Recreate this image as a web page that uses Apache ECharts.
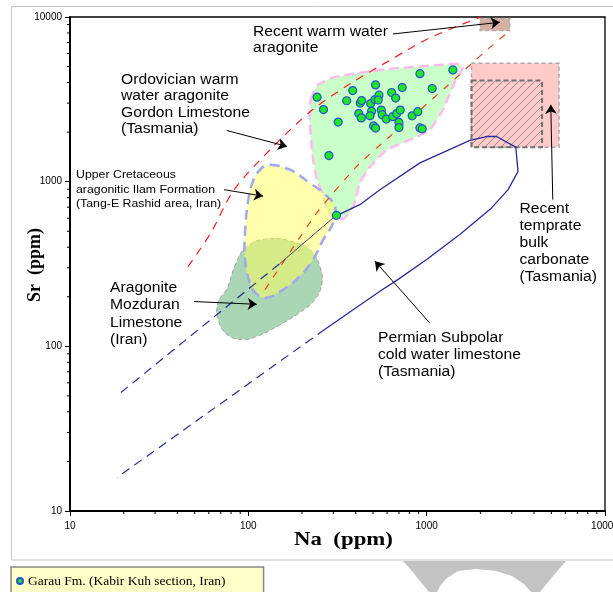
<!DOCTYPE html>
<html><head><meta charset="utf-8">
<script src="https://cdn.jsdelivr.net/npm/echarts@6/dist/echarts.min.js"></script>
<style>html,body{margin:0;padding:0;background:#fff}#c{width:613px;height:592px}</style>
</head><body><div id="c"></div>
<script>
// ---------- data (Na ppm, Sr ppm) ----------
const legendName = 'Garau Fm. (Kabir Kuh section, Iran)';
const garauNa = [243,264,319,283,356,385,424,432,416,430,485,491,481,517,513,540,535,556,563,593,504,517,636,670,645,679,711,729,699,699,829,892,917,917,944,1074,1402,312];
const garauSr = [3260,2740,2300,1440,3100,3575,3000,3110,2590,2440,2980,2680,2510,3870,3150,3350,3130,2720,2550,2400,2180,2115,3480,3220,2480,2590,2720,3730,2290,2130,2510,2660,4530,2120,2095,3680,4770,625];

const ordovicianField = [[224,3141],[246,3872],[306,4329],[622,4840],[1185,5118],[1516,5190],[1595,4909],[1439,4037],[1233,2732],[1042,2067],[882,1874],[599,1563],[481,1233],[422,986],[391,725],[348,605],[310,588],[276,677],[259,858],[240,1072],[227,1563],[221,2477]];
const ilamField = [[132,1268],[171,1182],[221,982],[263,854],[306,709],[299,562],[263,445],[231,337],[195,267],[157,221],[127,197],[111.5,207],[102,243],[95.8,337],[95.8,489],[100,778],[107,1028],[119,1211]];
const mozduranField = [[132,451],[183,427],[227,377],[252,305],[259,244],[237,193],[195,161],[145,132],[112,115],[93.4,110],[76,118],[67.7,146],[67.7,185],[76,225],[84.3,310],[98.3,404]];

const warmUpperLine = [[45.9,305],[61.8,491],[83.2,894],[137.6,1630],[229,2732],[379,3981],[627,5489],[1038,7459],[2013,10000]];
const warmLowerLine = [[124,221],[242,646],[405,1238],[622,1882],[1292,3781],[2073,6026],[2925,8260]];

const permianUpperDash = [[19.3,52.4],[150,318]];
const permianLink = [[150,318],[306,616]];
const permianLoop = [[306,616],[422,725],[547,894],[917,1300],[1748,1780],[2165,1880],[2466,1880],[3160,1620],[3252,1155],[2862,894],[2311,693],[1534,477],[1000,337],[692,255],[547,216],[269,127]];
const permianLowerDash = [[269,127],[18.4,16]];

const recentWarmBox = [[1990,8260],[2930,9820]];
const temperateBulkBox = [[1784,1620],[5525,5240]];
const temperateInnerBox = [[1784,1620],[4438,4110]];

const arrows = [
  [[647,7888],[2572,9288]],
  [[75.6,2046],[164.8,1637]],
  [[73.1,894],[120.9,817]],
  [[49.6,187],[111.5,180]],
  [[1038,139],[513,329]],
  [[5095,778],[4965,2930]]
];
const minorTickValues = [20,30,40,50,60,70,80,90,200,300,400,500,600,700,800,900,2000,3000,4000,5000,6000,7000,8000,9000];

// ---------- helpers ----------
const hatch = document.createElement('canvas');
hatch.width = 8; hatch.height = 8;
(function(){const g=hatch.getContext('2d');g.strokeStyle='#9a8a8a';g.lineWidth=1;
g.beginPath();g.moveTo(0,8);g.lineTo(8,0);g.moveTo(-2,2);g.lineTo(2,-2);g.moveTo(6,10);g.lineTo(10,6);g.stroke();})();

function polySeries(pts, style, smooth, z) {
  return {type:'custom', coordinateSystem:'cartesian2d', silent:true, z:z||2,
    data:[pts[0]],
    renderItem:function(params, api){
      return {type:'polygon', shape:{points:pts.map(p=>api.coord(p)), smooth:smooth||0}, style:style};
    }};
}
function rectSeries(box, style, z) {
  return {type:'custom', coordinateSystem:'cartesian2d', silent:true, z:z||2,
    data:[box[0]],
    renderItem:function(params, api){
      const a = api.coord(box[0]), b = api.coord(box[1]);
      return {type:'rect', shape:{x:Math.min(a[0],b[0]), y:Math.min(a[1],b[1]), width:Math.abs(b[0]-a[0]), height:Math.abs(b[1]-a[1])}, style:style};
    }};
}
function lineSeries(pts, color, width, type, smooth, z) {
  return {type:'line', data:pts, showSymbol:false, symbol:'none', silent:true, smooth:smooth||false, z:z||3,
    lineStyle:{color:color, width:width, type:type}};
}
function label(x, y, text, size, lh) {
  return {type:'text', x:x, y:y, scaleX:1.12, z:100,
    style:{text:text, font:size+'px "Liberation Sans"', fill:'#000', lineHeight:lh, verticalAlign:'top', align:'left'}};
}

const chart = echarts.init(document.getElementById('c'), null, {renderer:'canvas'});
const axisCommon = {
  type:'log', logBase:10, min:10, max:10000,
  axisLine:{show:true, onZero:false, lineStyle:{color:'#000', width:2}},
  axisTick:{show:true, inside:false, length:5, lineStyle:{color:'#000', width:1}},
  splitLine:{show:false},
  axisLabel:{fontSize:10, fontFamily:'"Liberation Sans"', color:'#000', formatter:v=>String(Math.round(v))}
};

chart.setOption({
  animation:false,
  backgroundColor:'#fff',
  grid:{left:70, top:17, width:535, height:494, containLabel:false, outerBoundsMode:'none',
    show:true, borderColor:'#000', borderWidth:1.3, backgroundColor:'transparent'},
  xAxis:Object.assign({}, axisCommon, {axisLabel:Object.assign({}, axisCommon.axisLabel, {margin:10})}),
  yAxis:Object.assign({}, axisCommon, {axisLabel:Object.assign({}, axisCommon.axisLabel, {margin:8})}),
  legend:{show:true, data:[legendName], left:11, top:567, orient:'horizontal',
    backgroundColor:'#ffffc8', borderColor:'#888', borderWidth:1.5, padding:[7,38,10,5],
    itemWidth:6, itemHeight:6, icon:'circle', selectedMode:false,
    textStyle:{fontFamily:'"Liberation Serif"', fontSize:13.5, color:'#000'}},
  graphic:[
    {type:'rect', shape:{x:11.5, y:6.5, width:700, height:553.5}, style:{fill:'none', stroke:'#c4c4c4', lineWidth:1}, z:-10, silent:true},
    {type:'polygon', shape:{points:[[403,561],[566,561],[553,576],[540,592],[531,592],[524,584],[512,576],[496,571],[476,569],[458,571],[447,578],[440,586],[437,592],[429,592],[420,581],[411,570]]}, style:{fill:'#c3c3c3'}, z:-5, silent:true},
    label(253, 23.4, 'Recent warm water\naragonite', 14, 16.6),
    label(121, 71.8, 'Ordovician warm\nwater aragonite\nGordon Limestone\n(Tasmania)', 14, 16.4),
    label(76, 167.7, 'Upper Cretaceous\naragonitic Ilam Formation\n(Tang-E Rashid area, Iran)', 11, 14.7),
    label(110, 279.7, 'Aragonite\nMozduran\nLimestone\n(Iran)', 14, 17.2),
    label(378, 329.8, 'Permian Subpolar\ncold water limestone\n(Tasmania)', 14, 17),
    label(519.5, 200.9, 'Recent\ntemprate\nbulk\ncarbonate\n(Tasmania)', 14, 16.85),
    {type:'text', x:343.5, y:540, scaleX:1.2, z:100, style:{text:'Na  (ppm)', font:'bold 19px "Liberation Serif"', fill:'#000', align:'center', verticalAlign:'middle'}},
    {type:'text', x:35.5, y:265, rotation:Math.PI/2, z:100, style:{text:'Sr  (ppm)', font:'bold 18px "Liberation Serif"', fill:'#000', align:'center', verticalAlign:'middle'}}
  ],
  series:[
    polySeries(mozduranField, {fill:'rgba(100,180,120,0.55)', stroke:'#a0a0a0', lineWidth:1, lineDash:[4,3]}, 0.45, 1),
    polySeries(ordovicianField, {fill:'rgba(150,255,150,0.5)', stroke:'#ffbbee', lineWidth:2.5, lineDash:[10,5]}, 0.15, 1),
    polySeries(ilamField, {fill:'rgba(255,255,90,0.5)', stroke:'#a0a8f0', lineWidth:2.5, lineDash:[10,6]}, 0.4, 1),
    rectSeries(temperateBulkBox, {fill:'#ffcaca', stroke:'#aaaaaa', lineWidth:1.5, lineDash:[4,3]}, 1),
    rectSeries(temperateInnerBox, {fill:{image:hatch, repeat:'repeat'}, stroke:'#707070', lineWidth:2, lineDash:[5,3]}, 1),
    rectSeries(recentWarmBox, {fill:'#d4b0a4', stroke:'#aaaaaa', lineWidth:1.2, lineDash:[4,3]}, 1),
    lineSeries(warmUpperLine, '#ff1a1a', 1.2, [8,7], 0.3),
    lineSeries(warmLowerLine, '#e0441c', 1.2, [7,8], 0.2),
    lineSeries(permianUpperDash, '#2a2a9a', 1.2, [9,6]),
    lineSeries(permianLink, '#4a4a78', 1, 'solid'),
    lineSeries(permianLoop, '#2a2a9a', 1.3, 'solid'),
    lineSeries(permianLowerDash, '#2a2a9a', 1.2, [9,6]),
    {type:'lines', coordinateSystem:'cartesian2d', silent:true, z:5,
      symbol:['none','arrow'], symbolSize:[0,9],
      lineStyle:{color:'#000', width:1, opacity:1},
      data:arrows.map(a=>({coords:a}))},
    {type:'custom', coordinateSystem:'cartesian2d', silent:true, z:6, clip:false,
      data:minorTickValues.map(v=>[v,10]),
      renderItem:function(params, api){const p=api.coord([api.value(0),10]);
        return {type:'line', shape:{x1:p[0], y1:p[1], x2:p[0], y2:p[1]+3}, style:{stroke:'#000', lineWidth:1}};}},
    {type:'custom', coordinateSystem:'cartesian2d', silent:true, z:6, clip:false,
      data:minorTickValues.map(v=>[10,v]),
      renderItem:function(params, api){const p=api.coord([10,api.value(1)]);
        return {type:'line', shape:{x1:p[0]-3, y1:p[1], x2:p[0], y2:p[1]}, style:{stroke:'#000', lineWidth:1}};}},
    {type:'scatter', name:legendName, z:10, symbol:'circle', symbolSize:8,
      itemStyle:{color:'#1ee81e', borderColor:'#2b4fd8', borderWidth:1.2, opacity:1},
      data:garauNa.map((v,i)=>[v, garauSr[i]])}
  ]
});
</script></body></html>
